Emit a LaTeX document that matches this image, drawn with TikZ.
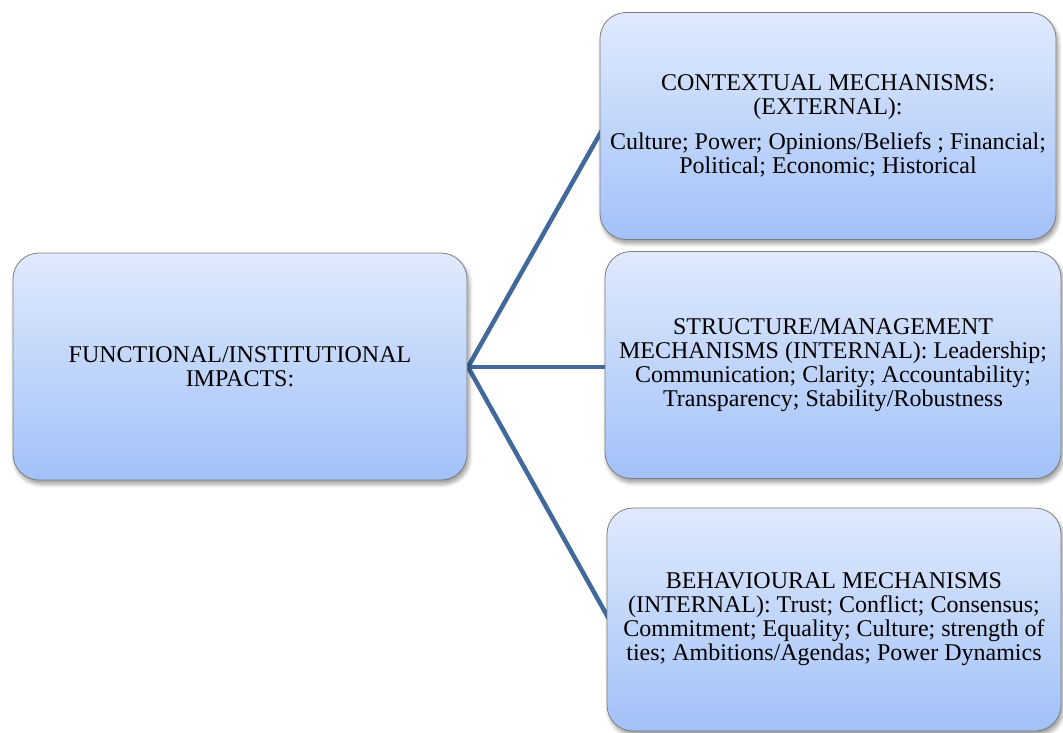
\documentclass[tikz,border=0pt]{standalone}
\usepackage{fontspec}
\setmainfont{Liberation Serif}
\newfontfamily\boxfont{Liberation Serif}
\usetikzlibrary{shadows.blur}
\definecolor{boxtop}{HTML}{E0EAFD}
\definecolor{boxbottom}{HTML}{A2C1F8}
\definecolor{boxline}{HTML}{7E7E7E}
\definecolor{linkblue}{HTML}{41699B}
\tikzset{
  mechbox/.style={draw=boxline, line width=0.8pt, rounded corners=26pt,
    top color=boxtop, bottom color=boxbottom,
    minimum width=#1, minimum height=227pt, inner sep=0pt,
    align=center, font=\boxfont\fontsize{24pt}{24pt}\selectfont,
    blur shadow={shadow xshift=2pt, shadow yshift=-4pt, shadow blur steps=6, shadow blur radius=4pt}},
  mechbox/.default=456pt,
  link/.style={draw=linkblue, line width=4.5pt},
}
\begin{document}
\begin{tikzpicture}[x=1pt, y=-1pt]
  \useasboundingbox (0,0) rectangle (1063,733);
  % connectors, drawn first so the boxes cover their ends
  \coordinate (hub) at (468,367);
  \coordinate (toTop) at (610,116);
  \coordinate (toMid) at (612,367);
  \coordinate (toBot) at (614,628);
  \path[link] (hub) -- (toTop);
  \path[link] (hub) -- (toMid);
  \path[link] (hub) -- (toBot);
  % boxes
  \node[mechbox=454pt] (impacts) at (240,366.5)
    {FUNCTIONAL/INSTITUTIONAL\\IMPACTS:};
  \node[mechbox] (context) at (828,126)
    {CONTEXTUAL MECHANISMS:\\(EXTERNAL):\\[11pt]Culture; Power; Opinions/Beliefs ; Financial;\\Political; Economic; Historical};
  \node[mechbox] (struct) at (833,365)
    {STRUCTURE/MANAGEMENT\\MECHANISMS (INTERNAL): Leadership;\\Communication; Clarity; Accountability;\\Transparency; Stability/Robustness};
  \node[mechbox=454pt, minimum height=223pt] (behav) at (834,619.5)
    {BEHAVIOURAL MECHANISMS\\(INTERNAL): Trust; Conflict; Consensus;\\Commitment; Equality; Culture; strength of\\ties; Ambitions/Agendas; Power Dynamics};
\end{tikzpicture}
\end{document}
